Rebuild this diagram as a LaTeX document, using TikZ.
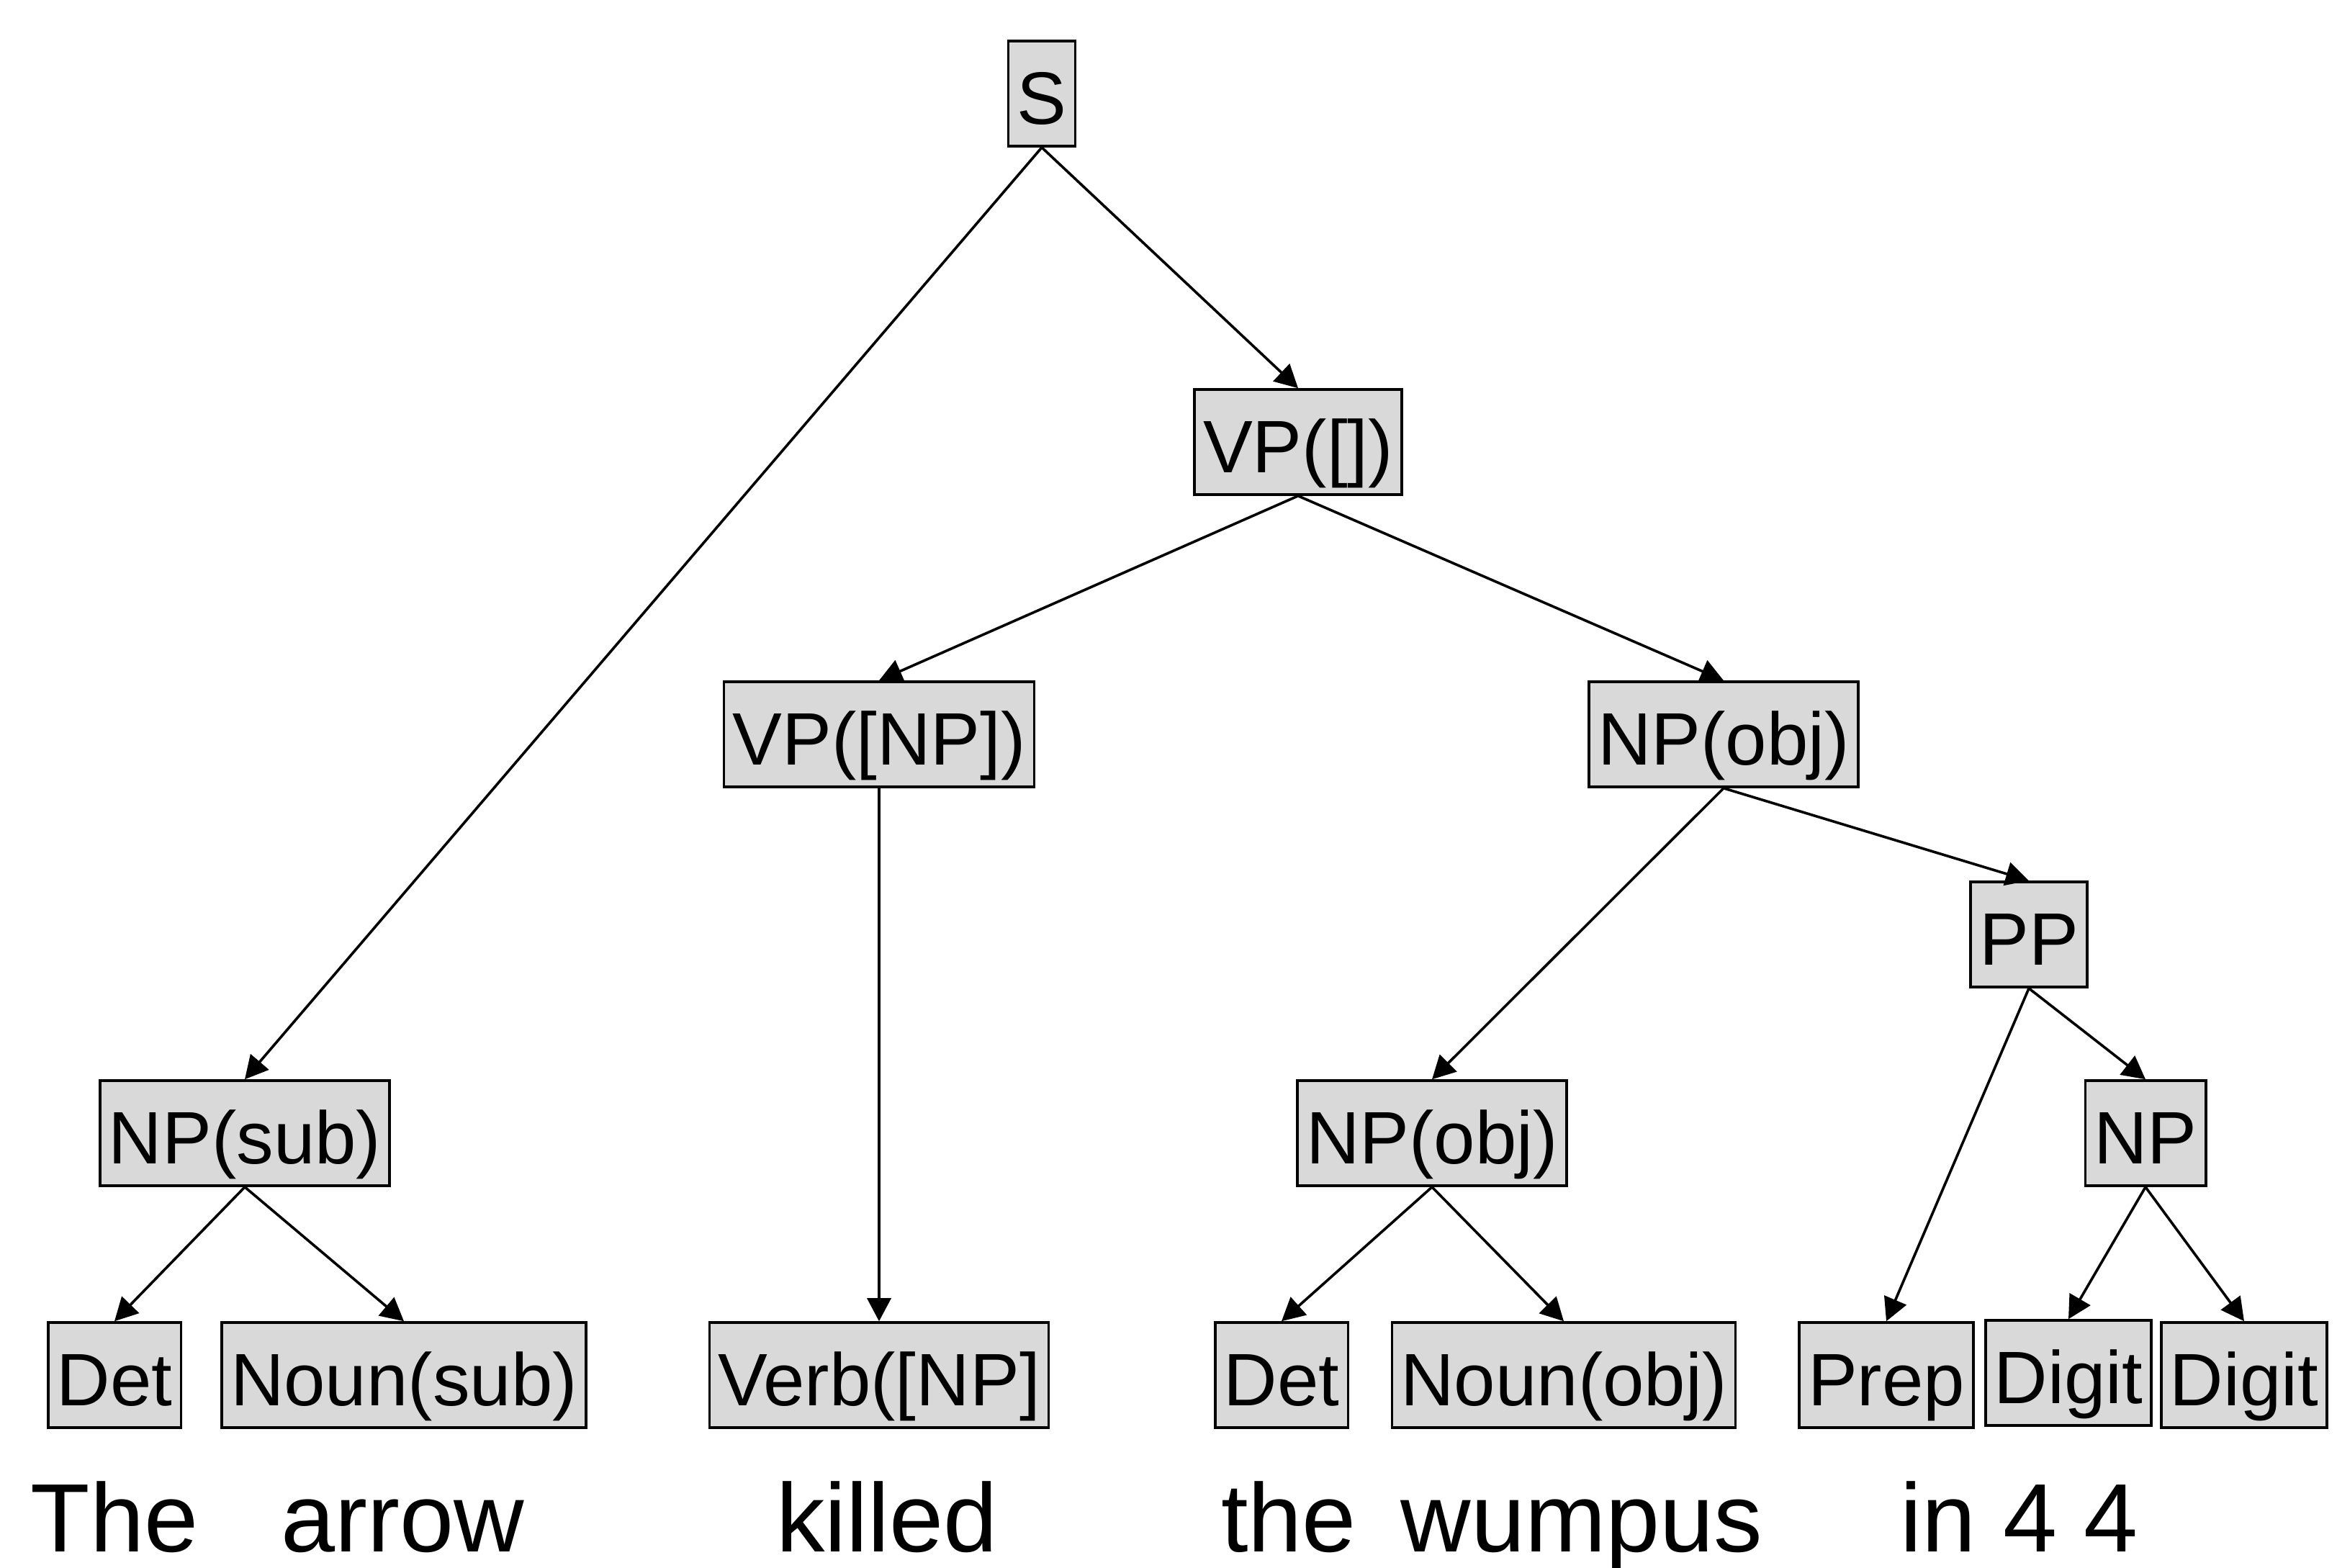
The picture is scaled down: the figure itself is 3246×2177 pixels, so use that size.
\documentclass[tikz,border=0pt]{standalone}
\usepackage{fontspec}
\setmainfont{Liberation Sans}
\usetikzlibrary{arrows.meta}
\definecolor{boxfill}{RGB}{217,217,217}
\begin{document}
\begin{tikzpicture}[x=0.25pt,y=-0.25pt,
  cat/.style={draw=black, line width=0.9pt, fill=boxfill, rectangle,
    inner xsep=3pt, inner ysep=0pt, text height=28.75pt, text depth=7.75pt,
    font=\fontsize{25.8pt}{30pt}\selectfont},
  word/.style={anchor=base, inner sep=0pt, font=\fontsize{33.75pt}{40pt}\selectfont},
  edge/.style={line width=0.9pt, -{Triangle[length=8pt,width=8.25pt]}}]
\useasboundingbox (0,0) rectangle (3246,2177);

% phrase-level categories
\node[cat] (s)      at (1447,130)  {S};
\node[cat] (vp)     at (1803,614)  {VP([])};
\node[cat] (vpnp)   at (1221,1020) {VP([NP])};
\node[cat] (npobj)  at (2394,1020) {NP(obj)};
\node[cat] (pp)     at (2818,1298) {PP};
\node[cat] (npsub)  at (340,1574)  {NP(sub)};
\node[cat] (npobjb) at (1989,1574) {NP(obj)};
\node[cat] (np)     at (2980,1574) {NP};

% lexical categories
\node[cat] (det)     at (159,1910)  {Det};
\node[cat] (nounsub) at (561,1910)  {Noun(sub)};
\node[cat] (verb)    at (1221,1910) {Verb([NP]};
\node[cat] (detb)    at (1780,1910) {Det};
\node[cat] (nounobj) at (2172,1910) {Noun(obj)};
\node[cat] (prep)    at (2620,1910) {Prep};
\node[cat] (digit)   at (2873,1907) {Digit};
\node[cat] (digitb)  at (3117,1910) {Digit};

% the sentence
\node[word] (w1) at (159,2155)  {The};
\node[word] (w2) at (559,2155)  {arrow};
\node[word] (w3) at (1232,2155) {killed};
\node[word] (w4) at (1790,2155) {the};
\node[word] (w5) at (2197,2155) {wumpus};
\node[word] (w6) at (2805,2155) {in 4 4};

% parse tree edges
\draw[edge] (s.south) -- (npsub.north);
\draw[edge] (s.south) -- (vp.north);
\draw[edge] (vp.south) -- (vpnp.north);
\draw[edge] (vp.south) -- (npobj.north);
\draw[edge] (vpnp.south) -- (verb.north);
\draw[edge] (npobj.south) -- (npobjb.north);
\draw[edge] (npobj.south) -- (pp.north);
\draw[edge] (pp.south) -- (prep.north);
\draw[edge] (pp.south) -- (np.north);
\draw[edge] (np.south) -- (digit.north);
\draw[edge] (np.south) -- (digitb.north);
\draw[edge] (npsub.south) -- (det.north);
\draw[edge] (npsub.south) -- (nounsub.north);
\draw[edge] (npobjb.south) -- (detb.north);
\draw[edge] (npobjb.south) -- (nounobj.north);
\end{tikzpicture}
\end{document}
